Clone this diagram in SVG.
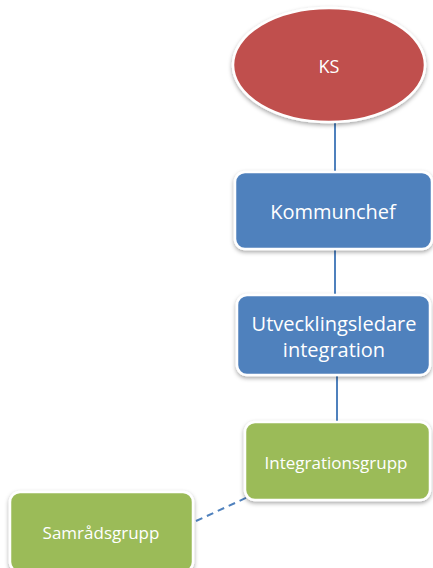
<svg xmlns="http://www.w3.org/2000/svg" width="433" height="568" viewBox="0 0 433 568">
<defs>
<filter id="sh" x="-20%" y="-20%" width="140%" height="150%">
<feDropShadow dx="0" dy="2" stdDeviation="2" flood-color="#000" flood-opacity="0.35"/>
</filter>
</defs>
<style>
.n{stroke:#fff;stroke-width:2.5;filter:url(#sh)}
.t{font-family:"Open Sans","Liberation Sans",sans-serif;fill:#fff;text-anchor:middle;dominant-baseline:central}
.c{stroke:#4f81bd;stroke-width:2;fill:none}
</style>
<rect width="433" height="568" fill="#fff"/>
<g id="connectors">
<line class="c" x1="335" y1="122" x2="335" y2="173"/>
<line class="c" x1="335" y1="248" x2="335" y2="296"/>
<line class="c" x1="337" y1="375" x2="337" y2="423"/>
<line class="c" x1="196" y1="521" x2="248" y2="497" stroke-dasharray="7,5"/>
</g>
<g id="ks">
<ellipse class="n" cx="329" cy="65" rx="96" ry="57" fill="#c0504d"/>
<text class="t" x="329" y="66" font-size="18">KS</text>
</g>
<g id="kommunchef">
<rect class="n" x="235" y="172" width="197" height="77" rx="10" fill="#4f81bd"/>
<text class="t" x="333" y="211" font-size="20">Kommunchef</text>
</g>
<g id="utvecklingsledare">
<rect class="n" x="237" y="295" width="193" height="80" rx="10" fill="#4f81bd"/>
<text class="t" x="334" y="323" font-size="20">Utvecklingsledare</text>
<text class="t" x="334" y="349" font-size="20">integration</text>
</g>
<g id="integrationsgrupp">
<rect class="n" x="245" y="422" width="185" height="78" rx="10" fill="#9bbb59"/>
<text class="t" x="336" y="462" font-size="17">Integrationsgrupp</text>
</g>
<g id="samradsgrupp">
<rect class="n" x="10" y="492" width="183" height="80" rx="10" fill="#9bbb59"/>
<text class="t" x="101" y="532" font-size="17">Samrådsgrupp</text>
</g>
</svg>
